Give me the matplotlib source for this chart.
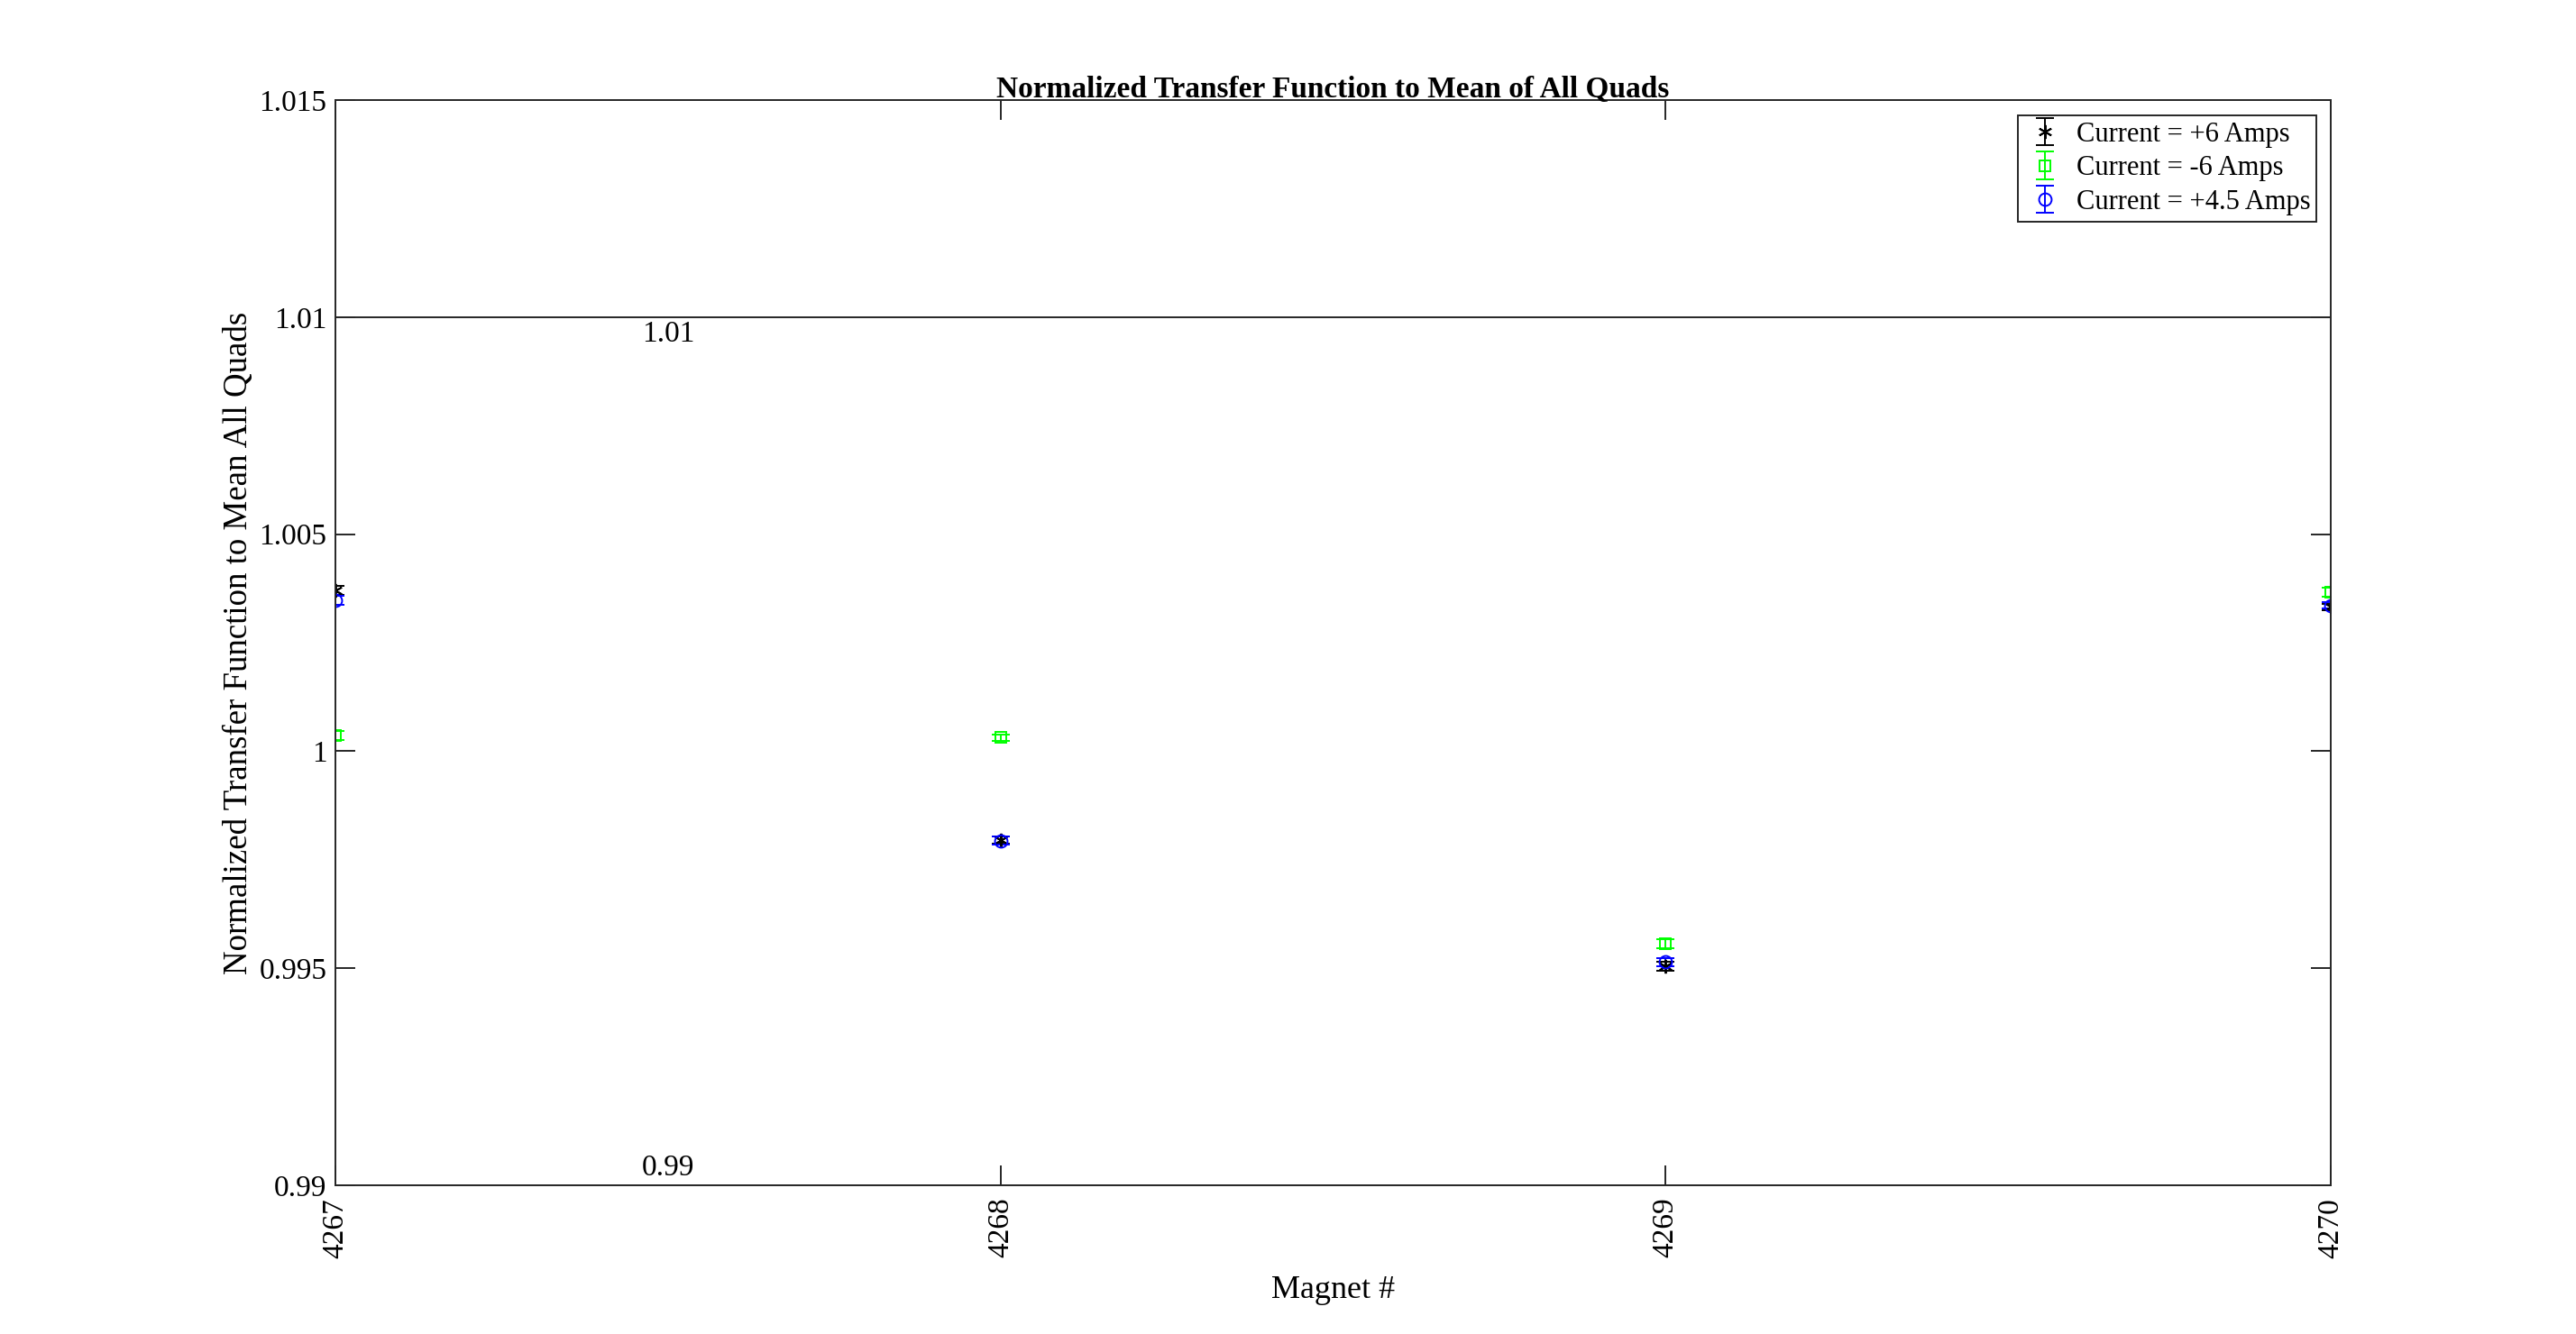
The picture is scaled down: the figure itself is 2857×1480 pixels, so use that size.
import numpy as np
import matplotlib
matplotlib.use("Agg")
import matplotlib.pyplot as plt

plt.rcParams['font.family'] = ['Liberation Serif', 'DejaVu Serif']

magnets = [4267, 4268, 4269, 4270]
tf_p6 = [1.00370, 0.99795, 0.99505, 1.00332]
err_p6 = [0.00010, 0.00008, 0.00010, 0.00008]
tf_m6 = [1.00036, 1.00031, 0.99556, 1.00366]
err_m6 = [0.00010, 0.00008, 0.00010, 0.00010]
tf_p45 = [1.00348, 0.99794, 0.99514, 1.00336]
err_p45 = [0.00010, 0.00010, 0.00010, 0.00008]
limits = [1.01, 0.99]
limit_labels = ["1.01", "0.99"]
limit_text_y = [1.0096, 0.9904]

fig = plt.figure(figsize=(14.285, 7.4), dpi=200)
ax = fig.add_axes([0.1302, 0.1115, 0.7746, 0.8135])

ax.errorbar(magnets, tf_p6, yerr=err_p6, linestyle='none', marker=(6, 2, 0),
            color='black', ms=5.5, mew=0.7, elinewidth=0.7, capsize=3.5,
            capthick=0.7, label='Current = +6 Amps')
ax.errorbar(magnets, tf_m6, yerr=err_m6, fmt='s', color='#00ff00', mfc='none',
            ms=4.0, mew=0.7, elinewidth=0.7, capsize=3.5, capthick=0.7,
            label='Current = -6 Amps')
ax.errorbar(magnets, tf_p45, yerr=err_p45, fmt='o', color='#0000ff', mfc='none',
            ms=5.0, mew=0.7, elinewidth=0.7, capsize=3.5, capthick=0.7,
            label='Current = +4.5 Amps')

for lim, lab, ty in zip(limits, limit_labels, limit_text_y):
    ax.axhline(lim, color='#262626', lw=0.7, zorder=1)
    ax.text(4267.5, ty, lab, ha='center', va='center', fontsize=12)

ax.set_xlim(4267, 4270)
ax.set_ylim(0.99, 1.015)
ax.set_xticks(magnets)
ax.set_xticklabels([str(m) for m in magnets], rotation=90)
ax.set_yticks([0.99, 0.995, 1.0, 1.005, 1.01, 1.015])
ax.set_yticklabels(['0.99', '0.995', '1', '1.005', '1.01', '1.015'])
ax.tick_params(direction='in', length=8, width=0.7, top=True, right=True,
               labelsize=12, colors='#262626', labelcolor='black')
ax.tick_params(axis='x', pad=5)
for s in ax.spines.values():
    s.set_linewidth(0.7)
    s.set_color('#262626')

ax.set_xlabel('Magnet #', fontsize=13, labelpad=7)
ax.set_ylabel('Normalized Transfer Function to Mean All Quads', fontsize=13.3,
              labelpad=2)
ax.set_title('Normalized Transfer Function to Mean of All Quads', fontsize=12,
             fontweight='bold', pad=1)

leg = ax.legend(loc='upper right', bbox_to_anchor=(0.9928, 0.9859),
                borderaxespad=0, fancybox=False, framealpha=1,
                edgecolor='#262626', fontsize=11, handlelength=1.5,
                handletextpad=0.4, labelspacing=0.28, borderpad=0.22)
leg.get_frame().set_linewidth(0.7)

fig.savefig('out.png', dpi=200)
